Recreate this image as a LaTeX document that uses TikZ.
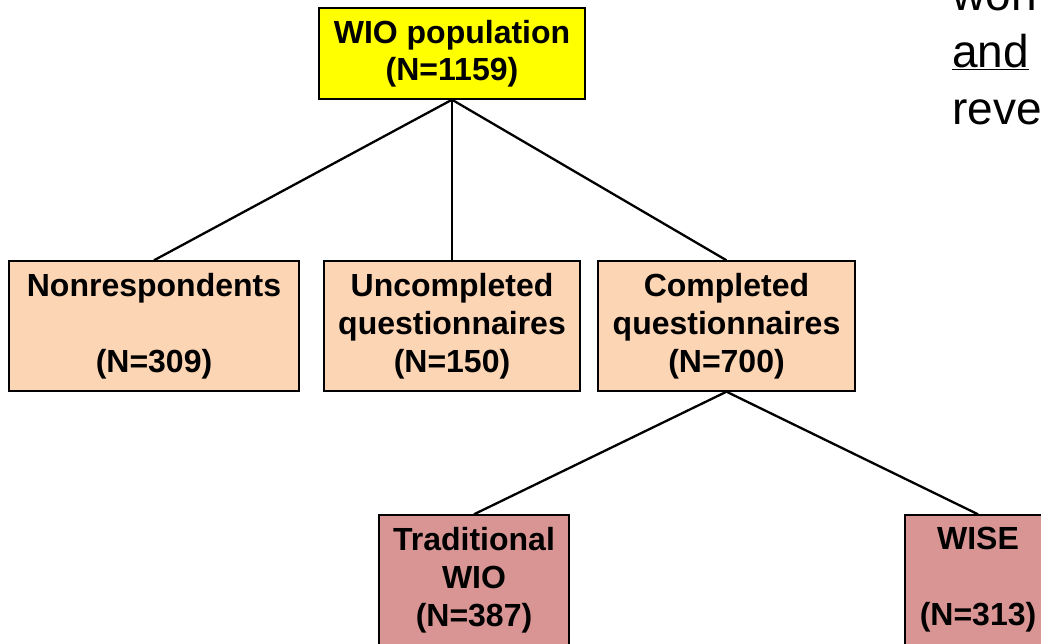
\documentclass[tikz,border=0pt]{standalone}
\usepackage{fontspec}
\setmainfont{Liberation Sans}
\definecolor{wioyellow}{HTML}{FFFF00}
\definecolor{peach}{HTML}{FCD5B5}
\definecolor{rose}{HTML}{D99594}
\tikzset{
  box/.style={draw=black, line width=1.4pt, rectangle, align=center, inner sep=0pt,
    font=\bfseries\fontsize{32}{38}\selectfont},
  link/.style={draw=black, line width=2.3pt},
  sidetext/.style={anchor=base west, inner sep=0pt, font=\fontsize{46}{56}\selectfont}
}
\begin{document}
\begin{tikzpicture}[x=1pt,y=-1pt]
\useasboundingbox (0,0) rectangle (1041,643);
\clip (0,0) rectangle (1041,643);
\node[box, fill=wioyellow, minimum width=266, minimum height=91,
      font=\bfseries\fontsize{32}{37}\selectfont] (wio) at (452,53.5) {\raisebox{-3pt}{WIO population}\\\raisebox{-3pt}{(N=1159)}};
\node[box, fill=peach, minimum width=290, minimum height=130] (non) at (154,326) {Nonrespondents\\\mbox{}\\(N=309)};
\node[box, fill=peach, minimum width=256, minimum height=130] (unc) at (452,326) {Uncompleted\\questionnaires\\(N=150)};
\node[box, fill=peach, minimum width=257, minimum height=130] (com) at (726.5,326) {Completed\\questionnaires\\(N=700)};
\node[box, fill=rose, minimum width=190, minimum height=130] (tra) at (474,580) {Traditional\\WIO\\(N=387)};
\node[box, fill=rose, minimum width=146, minimum height=130] (wise) at (978,580) {WISE\\\mbox{}\\(N=313)};
\draw[link] (wio.south) -- (non.north);
\draw[link] (wio.south) -- (unc.north);
\draw[link] (wio.south) -- (com.north);
\draw[link] (com.south) -- (tra.north);
\draw[link] (com.south) -- (wise.north);
\node[sidetext] (t1) at (952,10) {won};
\node[sidetext] (t2) at (952,67) {\underline{and}};
\node[sidetext] (t3) at (952,124) {reve};
\end{tikzpicture}
\end{document}
